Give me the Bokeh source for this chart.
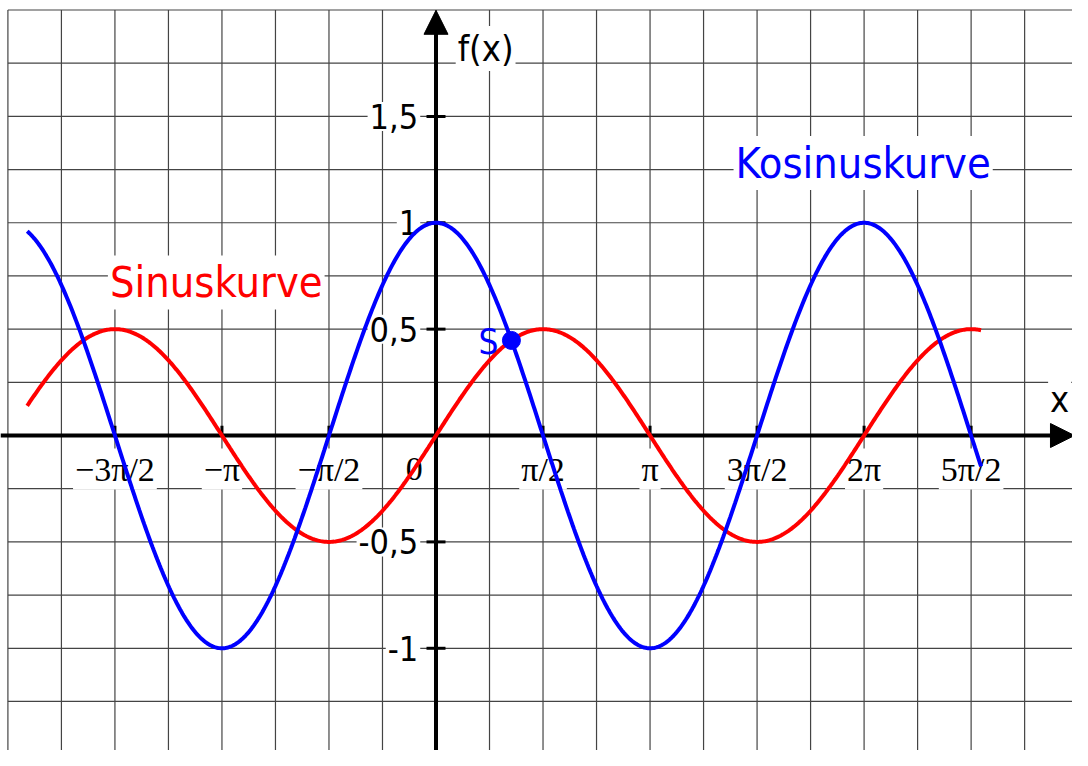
import numpy as np
from bokeh.plotting import figure
from bokeh.models import Range1d, Arrow, NormalHead
from bokeh.core.properties import value
from bokeh.embed import file_html
from bokeh.resources import INLINE

PI = np.pi

# ---------------- data ----------------
curve_x_start = -6.0
curve_x_end = 8.0
cos_amplitude = 1.0
sin_amplitude = 0.5

x_tick_values = [-3 * PI / 2, -PI, -PI / 2, PI / 2, PI, 3 * PI / 2, 2 * PI, 5 * PI / 2]
x_tick_labels = ["\u22123\u03c0/2", "\u2212\u03c0", "\u2212\u03c0/2", "\u03c0/2", "\u03c0", "3\u03c0/2", "2\u03c0", "5\u03c0/2"]
y_tick_values = [1.5, 1.0, 0.5, -0.5, -1.0]
y_tick_labels = ["1,5", "1", "0,5", "-0,5", "-1"]
s_x = [1.107]
s_y = [0.447]
s_label = ["S"]

# grid: every pi/4 horizontally, every 0.25 vertically
grid_x = [k * PI / 4 for k in range(-8, 13)]
grid_y = [k * 0.25 for k in range(-8, 9)]

# ---------------- layout ----------------
W, H = 1072, 750
REF_W, REF_H = 1088, 766
K = W / REF_W                    # screen scale relative to the reference
XS, YS = 69.15, 217.3            # reference pixels per unit
OX, OY = 442.0, 444.3            # reference pixel of the origin


def X(px):  # reference pixel -> data x
    return (px - OX) / XS


def Y(py):  # reference pixel -> data y
    return (OY - py) / YS


x_start, x_end = X(0), X(REF_W)
y_start, y_end = Y(REF_H), Y(0)

SANS = "DejaVu Sans Condensed"
SERIF = "Liberation Serif"

p = figure(width=W, height=H, x_range=Range1d(x_start, x_end), y_range=Range1d(y_start, y_end),
           x_axis_type=None, y_axis_type=None, toolbar_location=None, output_backend="svg",
           min_border=0, outline_line_color=None, background_fill_color="white")

# grid (bounded at -2pi on the left and 2 at the top)
gx_left, gy_top = min(grid_x), max(grid_y)
p.segment(x0=grid_x, y0=[y_start] * len(grid_x), x1=grid_x, y1=[gy_top] * len(grid_x),
          line_color="#444444", line_width=1.2)
p.segment(x0=[gx_left] * len(grid_y), y0=grid_y, x1=[x_end] * len(grid_y), y1=grid_y,
          line_color="#444444", line_width=1.2)

bg = dict(background_fill_color="white", padding=2)

# tick labels
p.text(x=x_tick_values, y=[0] * len(x_tick_values), text=x_tick_labels, text_align="center",
       text_baseline="middle", y_offset=34 * K, text_font=value(SERIF), text_font_size=value("34px"),
       text_color="black", **bg)
p.text(x=[0], y=[0], text=["0"], text_align="center", text_baseline="middle", x_offset=-22 * K,
       y_offset=34 * K, text_font=value(SERIF), text_font_size=value("34px"), text_color="black", **bg)
p.text(x=[0] * len(y_tick_values), y=y_tick_values, text=y_tick_labels, text_align="right",
       text_baseline="middle", x_offset=-16 * K, text_font=value(SANS), text_font_size=value("34px"),
       text_color="black", **bg)

# axis titles and curve names
p.text(x=[X(462)], y=[Y(49)], text=["f(x)"], text_align="left", text_baseline="middle",
       text_font=value(SANS), text_font_size=value("36px"), text_color="black", **bg)
p.text(x=[X(1075)], y=[Y(408)], text=["x"], text_align="center", text_baseline="middle",
       text_font=value(SANS), text_font_size=value("36px"), text_color="black", **bg)
p.text(x=[X(744)], y=[Y(166)], text=["Kosinuskurve"], text_align="left", text_baseline="middle",
       text_font=value(SANS), text_font_size=value("43px"), text_color="#0000ff", **bg)
p.text(x=[X(109)], y=[Y(288)], text=["Sinuskurve"], text_align="left", text_baseline="middle",
       text_font=value(SANS), text_font_size=value("43px"), text_color="#ff0000", **bg)

# axes
x_tip = X(1090)
p.line(x=[x_start, x_tip - 0.2], y=[0, 0], line_color="black", line_width=4)
p.line(x=[0, 0], y=[y_start, 1.95], line_color="black", line_width=4)
p.add_layout(Arrow(end=NormalHead(size=24, fill_color="black", line_color="black", line_width=1),
                   x_start=x_tip - 0.5, y_start=0, x_end=x_tip, y_end=0, line_alpha=0))
p.add_layout(Arrow(end=NormalHead(size=24, fill_color="black", line_color="black", line_width=1),
                   x_start=0, y_start=1.8, x_end=0, y_end=Y(10), line_alpha=0))

tick_len = 10 / YS
p.segment(x0=x_tick_values, y0=[0] * len(x_tick_values), x1=x_tick_values,
          y1=[tick_len] * len(x_tick_values), line_color="black", line_width=3)
p.scatter(x=[0] * len(y_tick_values), y=y_tick_values, marker="dash", size=19, line_width=3,
          line_color="black")

# curves
xs = np.linspace(curve_x_start, curve_x_end, 800)
p.line(xs, sin_amplitude * np.sin(xs), line_color="#ff0000", line_width=4)
p.line(xs, cos_amplitude * np.cos(xs), line_color="#0000ff", line_width=4)

# intersection point
p.scatter(x=s_x, y=s_y, size=18, marker="circle", fill_color="#0000ff", line_color="#0000ff")
p.text(x=s_x, y=s_y, text=s_label, text_align="right", text_baseline="middle", x_offset=-13 * K,
       y_offset=2 * K, text_font=value(SANS), text_font_size=value("35px"), text_color="#0000ff")

open("out.html", "w").write(file_html(p, INLINE))
